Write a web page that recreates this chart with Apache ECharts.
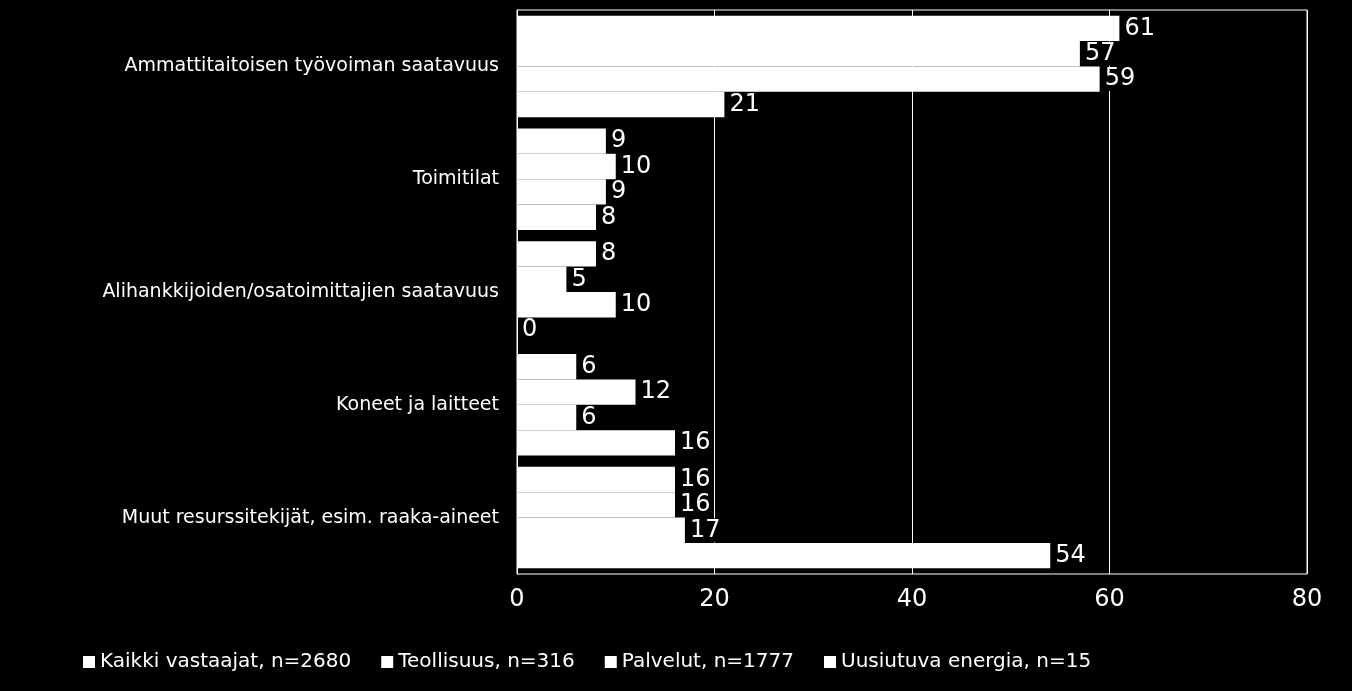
<!DOCTYPE html><html><head><meta charset="utf-8"><script src="https://cdn.jsdelivr.net/npm/echarts@6/dist/echarts.min.js"></script>
<style>html,body{margin:0;background:#000}#c{width:1352px;height:691px}</style></head><body><div id="c"></div><script>
const categories=["Ammattitaitoisen työvoiman saatavuus","Toimitilat","Alihankkijoiden/osatoimittajien saatavuus","Koneet ja laitteet","Muut resurssitekijät, esim. raaka-aineet"];
const seriesNames=["Kaikki vastaajat, n=2680","Teollisuus, n=316","Palvelut, n=1777","Uusiutuva energia, n=15"];
const kaikki=[61,9,8,6,16];
const teollisuus=[57,10,5,12,16];
const palvelut=[59,9,10,6,17];
const uusiutuva=[21,8,0,16,54];
const values=[kaikki,teollisuus,palvelut,uusiutuva];
const ch=echarts.init(document.getElementById('c'));
ch.setOption({backgroundColor:'#000',animation:false,
grid:{left:517,right:45,top:10,bottom:117,show:true,borderColor:'#fff',borderWidth:1},
legend:{bottom:14,left:78,itemWidth:12,itemHeight:12,itemGap:30,icon:'rect',textStyle:{color:'#fff',fontSize:20,fontFamily:'DejaVu Sans'},data:seriesNames},
xAxis:{type:'value',min:0,max:80,interval:20,axisLabel:{color:'#fff',fontSize:24,fontFamily:'DejaVu Sans',margin:14},splitLine:{lineStyle:{color:'#fff'}},axisLine:{show:false},axisTick:{show:false}},
yAxis:{type:'category',inverse:true,data:categories,axisLabel:{color:'#fff',fontSize:19,fontFamily:'DejaVu Sans',margin:18},axisLine:{lineStyle:{color:'#fff'}},axisTick:{show:false}},
series:values.map((v,i)=>({name:seriesNames[i],type:'bar',data:v,barGap:'0%',barCategoryGap:'10%',itemStyle:{color:'#fff'},
label:{show:true,position:'right',distance:2,color:'#fff',fontSize:24,fontFamily:'DejaVu Sans',backgroundColor:'#000',padding:[0,3,0,3]}}))
});
</script></body></html>
